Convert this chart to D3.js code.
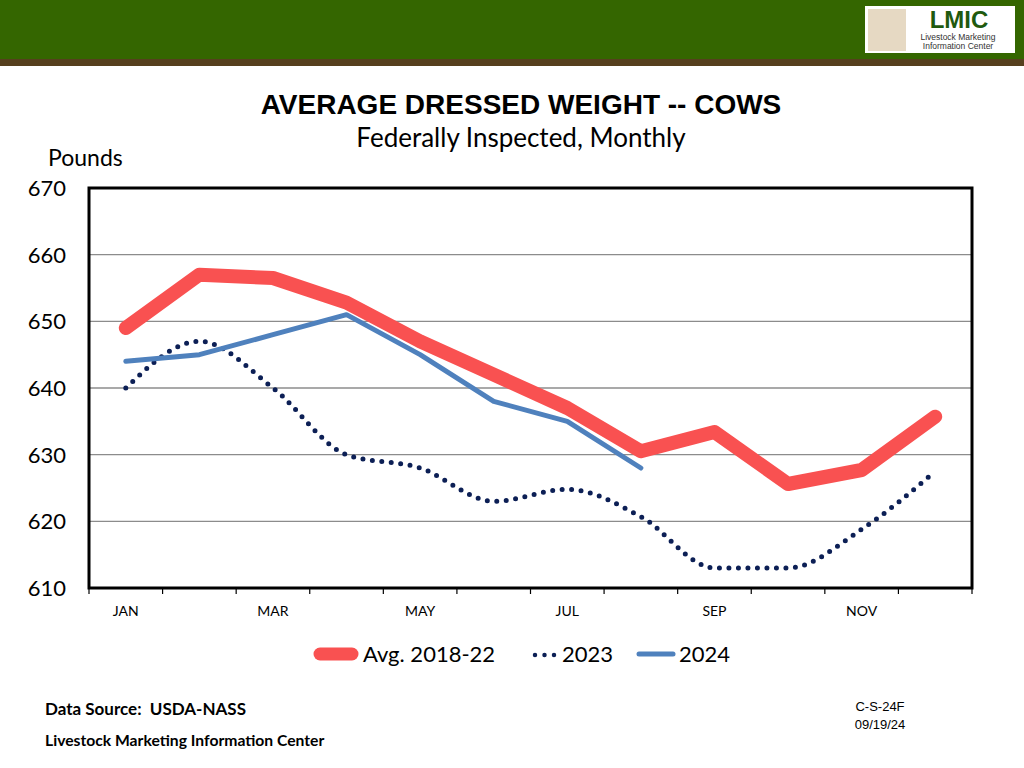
<!DOCTYPE html>
<html><head><meta charset="utf-8">
<script src="https://cdn.jsdelivr.net/npm/d3@7"></script>
<style>body{margin:0;background:#fff}svg{display:block}text{white-space:pre}</style>
</head><body>
<svg id="c" width="1024" height="768"></svg>
<script>
const months = ["JAN","FEB","MAR","APR","MAY","JUN","JUL","AUG","SEP","OCT","NOV","DEC"];
const monthLabels = ["JAN","","MAR","","MAY","","JUL","","SEP","","NOV",""];
const avg1822 = [649, 657, 656.5, 652.8, 647, 642, 637, 630.5, 633.4, 625.6, 627.7, 635.7];
const y2023 = [640, 647, 640, 630, 628, 623, 624.8, 620.7, 613, 613, 618.8, 627.5];
const y2024 = [644, 645, 648, 651, 645, 638, 635, 628];
const yTicks = [610, 620, 630, 640, 650, 660, 670];

const svg = d3.select("#c");
const font = "Lato, 'Open Sans', sans-serif";

// header
svg.append("rect").attr("x",0).attr("y",0).attr("width",1024).attr("height",60).attr("fill","#346600");
svg.append("rect").attr("x",0).attr("y",59).attr("width",1024).attr("height",7).attr("fill","#56401e");
const logo = svg.append("g");
logo.append("rect").attr("x",865).attr("y",6).attr("width",150).attr("height",47).attr("fill","#fff");
logo.append("rect").attr("x",868).attr("y",9).attr("width",38).attr("height",42).attr("fill","#e6d9c3");
logo.append("text").attr("x",959).attr("y",28).attr("text-anchor","middle").attr("font-family","Liberation Sans, Arial").attr("font-weight","bold").attr("font-size",24).attr("fill","#1f5a0e").text("LMIC");
logo.append("text").attr("x",958).attr("y",40).attr("text-anchor","middle").attr("font-family","Liberation Sans, Arial").attr("font-size",8.5).attr("fill","#333").text("Livestock Marketing");
logo.append("text").attr("x",958).attr("y",49).attr("text-anchor","middle").attr("font-family","Liberation Sans, Arial").attr("font-size",8.5).attr("fill","#333").text("Information Center");

// titles
svg.append("text").attr("x",521).attr("y",114).attr("text-anchor","middle").attr("font-family","Liberation Sans, Arial").attr("font-weight","bold").attr("font-size",28).attr("fill","#000").text("AVERAGE DRESSED WEIGHT -- COWS");
svg.append("text").attr("x",521).attr("y",147).attr("text-anchor","middle").attr("font-family",font).attr("font-size",26).attr("fill","#000").text("Federally Inspected, Monthly");
svg.append("text").attr("x",48).attr("y",166).attr("font-family",font).attr("font-size",23).attr("fill","#000").text("Pounds");

const L=89, R=972, T=188, B=588;
const x = d3.scaleBand().domain(months).range([L,R]);
const y = d3.scaleLinear().domain([610,670]).range([B,T]);

// gridlines
svg.append("g").selectAll("line").data(yTicks.filter(v=>v>610 && v<670)).join("line")
  .attr("x1",L).attr("x2",R).attr("y1",d=>y(d)).attr("y2",d=>y(d)).attr("stroke","#8c8c8c").attr("stroke-width",1.3);

// y axis labels
svg.append("g").selectAll("text").data(yTicks).join("text")
  .attr("x",66).attr("y",d=>y(d)+8).attr("text-anchor","end").attr("font-family",font).attr("font-size",22).attr("fill","#000").text(d=>d);

// x axis ticks
const xAxis = d3.axisBottom(x).tickSize(0).tickFormat((d,i)=>monthLabels[i]);
const xg = svg.append("g").attr("transform",`translate(0,${B+20})`).call(xAxis);
xg.select(".domain").remove();
xg.selectAll("text").attr("font-family",font).attr("font-size",14).attr("fill","#000").attr("dy","0.35em");
const bounds = months.map(m=>x(m)).concat([R]);
svg.append("g").selectAll("line").data(bounds).join("line")
  .attr("x1",d=>d).attr("x2",d=>d).attr("y1",B).attr("y2",B+6).attr("stroke","#000").attr("stroke-width",1.2);

const cx = (d,i)=>x(months[i])+x.bandwidth()/2;

// series
svg.append("path").datum(avg1822).attr("d",d3.line().x(cx).y(d=>y(d))).attr("fill","none").attr("stroke","#f95151").attr("stroke-width",14).attr("stroke-linecap","round").attr("stroke-linejoin","round");
svg.append("path").datum(y2023).attr("d",d3.line().x(cx).y(d=>y(d)).curve(d3.curveMonotoneX)).attr("fill","none").attr("stroke","#0c1f55").attr("stroke-width",5).attr("stroke-linecap","round").attr("stroke-dasharray","0 9.5");
svg.append("path").datum(y2024).attr("d",d3.line().x(cx).y(d=>y(d))).attr("fill","none").attr("stroke","#4f81bd").attr("stroke-width",5).attr("stroke-linecap","round").attr("stroke-linejoin","round");

// border
svg.append("rect").attr("x",L).attr("y",T).attr("width",R-L).attr("height",B-T).attr("fill","none").attr("stroke","#000").attr("stroke-width",3);

// legend
const lg = svg.append("g");
lg.append("line").attr("x1",320).attr("x2",352).attr("y1",654).attr("y2",654).attr("stroke","#f95151").attr("stroke-width",13).attr("stroke-linecap","round");
lg.append("text").attr("x",363).attr("y",662).attr("font-family",font).attr("font-size",22).text("Avg. 2018-22");
lg.append("line").attr("x1",535).attr("x2",555).attr("y1",655).attr("y2",655).attr("stroke","#0c1f55").attr("stroke-width",4.5).attr("stroke-linecap","round").attr("stroke-dasharray","0 9.5");
lg.append("text").attr("x",562).attr("y",662).attr("font-family",font).attr("font-size",22).text("2023");
lg.append("line").attr("x1",639).attr("x2",673).attr("y1",654).attr("y2",654).attr("stroke","#4f81bd").attr("stroke-width",5).attr("stroke-linecap","round");
lg.append("text").attr("x",679).attr("y",662).attr("font-family",font).attr("font-size",22).text("2024");

// footer
svg.append("text").attr("x",45).attr("y",715).attr("font-family",font).attr("font-weight","bold").attr("font-size",17).text("Data Source:  USDA-NASS");
svg.append("text").attr("x",45).attr("y",746).attr("font-family",font).attr("font-weight","bold").attr("font-size",15.7).text("Livestock Marketing Information Center");
svg.append("text").attr("x",880).attr("y",711).attr("text-anchor","middle").attr("font-family","Liberation Sans, Arial").attr("font-size",13).text("C-S-24F");
svg.append("text").attr("x",880).attr("y",729).attr("text-anchor","middle").attr("font-family","Liberation Sans, Arial").attr("font-size",13).text("09/19/24");
</script>
</body></html>
